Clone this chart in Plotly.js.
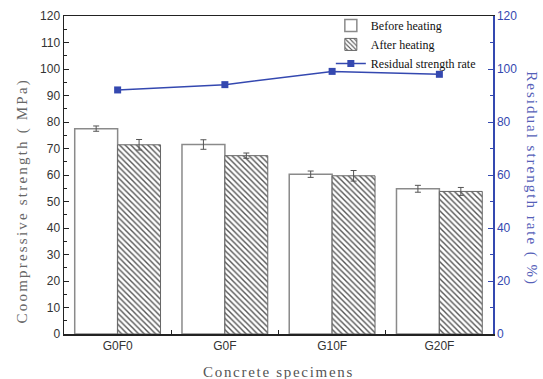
<!DOCTYPE html>
<html>
<head>
<meta charset="utf-8">
<script src="https://cdn.plot.ly/plotly-3.0.1.min.js"></script>
<style>html,body{margin:0;padding:0;background:#fff;}#chart{width:543px;height:379px;}</style>
</head>
<body>
<div id="chart"></div>
<script>
var categories = ["G0F0", "G0F", "G10F", "G20F"];
var beforeHeating = [77.5, 71.5, 60.3, 54.8];
var beforeErr = [1.0, 1.8, 1.2, 1.3];
var afterHeating = [71.4, 67.3, 59.7, 53.8];
var afterErr = [2.0, 1.0, 2.0, 1.5];
var residualRate = [92.1, 94.1, 99.1, 98.0];
var leftTicks = [0,10,20,30,40,50,60,70,80,90,100,110,120];
var rightTicks = [0,20,40,60,80,100,120];

var blue = "#3448b0";
var tickFont = {family: "Liberation Sans, Arial, sans-serif", size: 12, color: "#333"};
var titleFamily = "Liberation Serif, Times New Roman, serif";

var traces = [
  {
    type: "bar", name: "Before heating", x: categories, y: beforeHeating,
    marker: {color: "#ffffff", line: {color: "#8a8a8a", width: 1.5}},
    error_y: {type: "data", array: beforeErr, visible: true, color: "#555", thickness: 1, width: 3}
  },
  {
    type: "bar", name: "After heating", x: categories, y: afterHeating,
    marker: {color: "#ffffff", line: {color: "#666", width: 1},
      pattern: {shape: "\\", fgcolor: "#555", bgcolor: "#ffffff", size: 4, solidity: 0.35}},
    error_y: {type: "data", array: afterErr, visible: true, color: "#555", thickness: 1, width: 3}
  },
  {
    type: "scatter", mode: "lines+markers", name: "Residual strength rate",
    x: categories, y: residualRate, yaxis: "y2",
    line: {color: blue, width: 1.5},
    marker: {symbol: "square", size: 7, color: blue}
  }
];

var layout = {
  width: 543, height: 379,
  margin: {l: 64, r: 50, t: 16, b: 45, autoexpand: false},
  paper_bgcolor: "#fff", plot_bgcolor: "#fff",
  barmode: "group", bargap: 0.2, bargroupgap: 0,
  showlegend: true,
  legend: {x: 0.622, y: 1.016, xanchor: "left", yanchor: "top",
    bgcolor: "rgba(0,0,0,0)", font: {family: titleFamily, size: 12, color: "#111"},
    tracegroupgap: 0, itemwidth: 30},
  xaxis: {
    type: "category", range: [-0.5, 3.5],
    showline: true, linecolor: "#222", linewidth: 1.5, mirror: true,
    ticks: "inside", tickson: "boundaries", ticklen: 4, tickcolor: "#222",
    showgrid: false, zeroline: false, tickfont: tickFont
  },
  yaxis: {
    range: [0, 120], tickvals: leftTicks, ticktext: leftTicks.map(String),
    showline: true, linecolor: "#222", linewidth: 1.5,
    ticks: "inside", ticklen: 5, tickcolor: "#222",
    minor: {ticks: "inside", ticklen: 3, dtick: 5, tickcolor: "#222"},
    showgrid: false, zeroline: false, tickfont: tickFont
  },
  yaxis2: {
    overlaying: "y", side: "right", range: [0, 120],
    tickvals: rightTicks, ticktext: rightTicks.map(String),
    showline: true, linecolor: blue, linewidth: 1.5,
    ticks: "inside", ticklen: 5, tickcolor: blue,
    minor: {ticks: "inside", ticklen: 3, dtick: 10, tickcolor: blue},
    showgrid: false, zeroline: false,
    tickfont: {family: "Liberation Sans, Arial, sans-serif", size: 12, color: blue}
  },
  annotations: [
    {text: '<span style="letter-spacing:2.2px">Coompressive strength ( MPa)</span>', xref: "paper", yref: "paper", x: -0.098, y: 0.42,
      xanchor: "center", yanchor: "middle", textangle: -90, showarrow: false,
      font: {family: titleFamily, size: 15, color: "#666"}},
    {text: '<span style="letter-spacing:2px">Residual strength rate ( %)</span>', xref: "paper", yref: "paper", x: 1.089, y: 0.489,
      xanchor: "center", yanchor: "middle", textangle: 90, showarrow: false,
      font: {family: titleFamily, size: 15, color: "#5560b8"}},
    {text: '<span style="letter-spacing:1.7px">Concrete specimens</span>', xref: "paper", yref: "paper", x: 0.499, y: -0.118,
      xanchor: "center", yanchor: "middle", showarrow: false,
      font: {family: titleFamily, size: 15, color: "#555"}}
  ]
};

Plotly.newPlot("chart", traces, layout, {displayModeBar: false, staticPlot: true});
</script>
</body>
</html>
